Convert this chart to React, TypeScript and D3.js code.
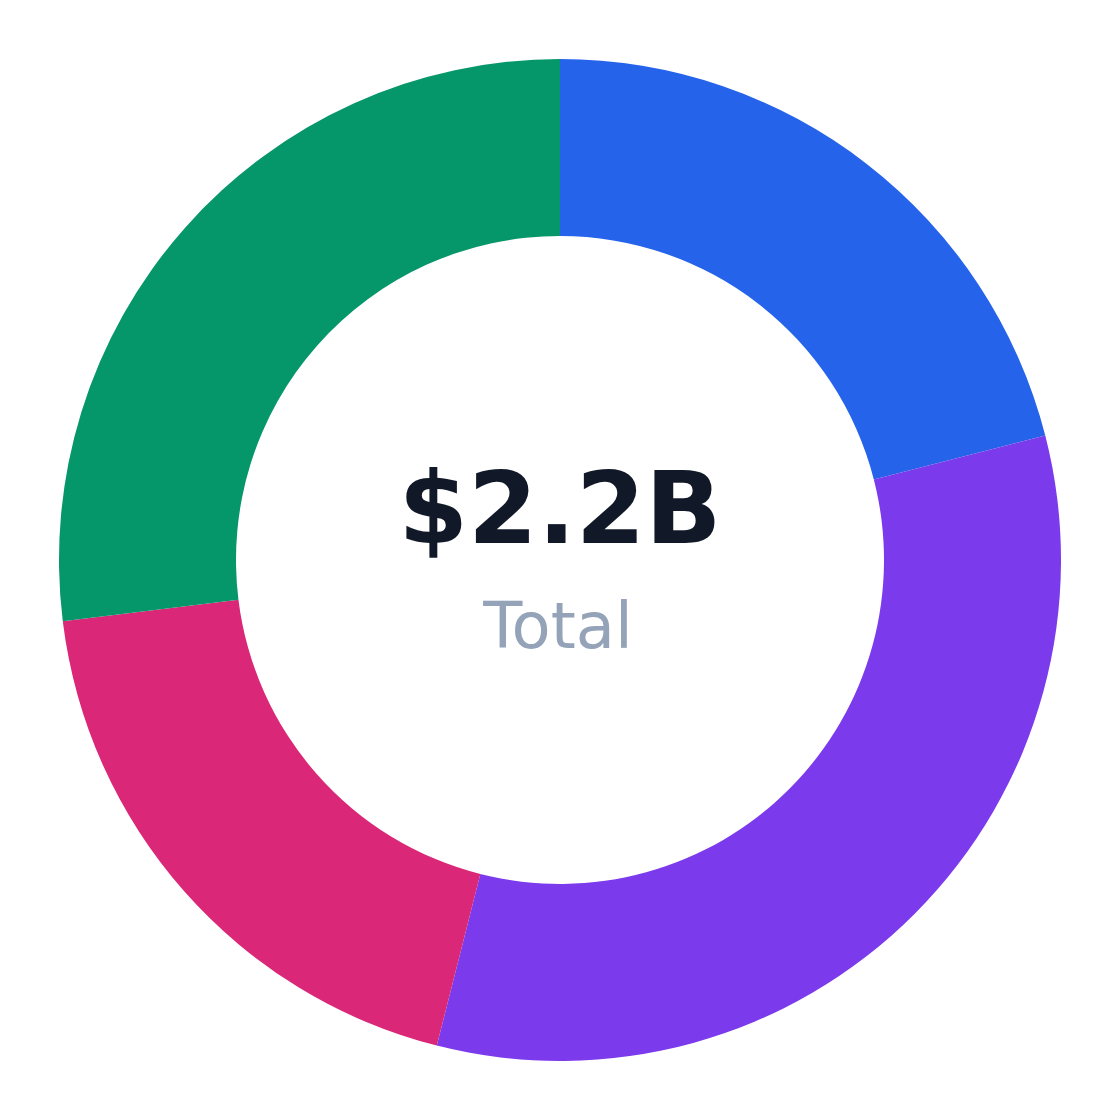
import React from "react";
import * as d3 from "d3";

const categories = ["Segment A", "Segment B", "Segment C", "Segment D"];
const values = [462, 725, 420, 593]; // $M
const colors = ["#2563eb", "#7c3aed", "#db2777", "#059669"];
const totalLabel = "$2.2B";
const subLabel = "Total";

const W = 1120;
const H = 1120;
const CX = 560;
const CY = 560;
const R_OUT = 501;
const R_IN = 324;

export default function App() {
  const data = categories.map((c, i) => ({ name: c, value: values[i], color: colors[i] }));
  const pie = d3.pie<any>().value((d: any) => d.value).sort(null);
  const arc = d3.arc<any>().innerRadius(R_IN).outerRadius(R_OUT);
  const arcs = pie(data);
  return (
    <svg
      width={W}
      height={H}
      style={{ position: "absolute", left: 0, top: 0, background: "#fff" }}
    >
      <g transform={`translate(${CX},${CY})`}>
        {arcs.map((a, i) => (
          <path key={i} d={arc(a) || ""} fill={a.data.color} />
        ))}
        <text
          x={0}
          y={-17}
          textAnchor="middle"
          fontFamily="DejaVu Sans"
          fontWeight="bold"
          fontSize={100}
          fill="#111827"
        >
          {totalLabel}
        </text>
        <text
          x={-2}
          y={88}
          textAnchor="middle"
          fontFamily="DejaVu Sans"
          fontSize={64}
          fill="#94a3b8"
        >
          {subLabel}
        </text>
      </g>
    </svg>
  );
}
